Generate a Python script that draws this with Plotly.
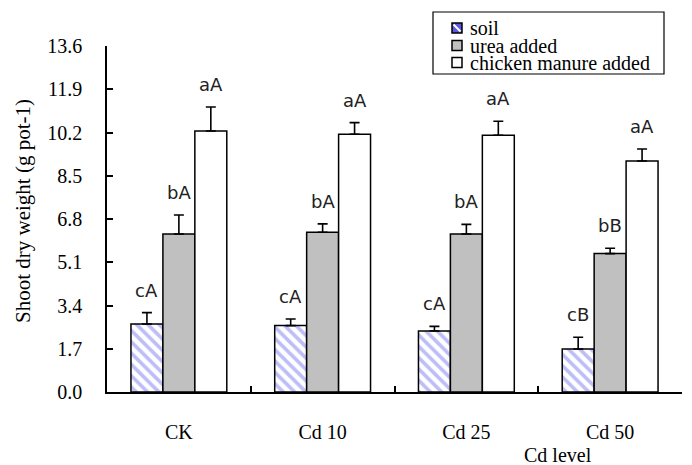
import plotly.graph_objects as go

categories = ["CK", "Cd 10", "Cd 25", "Cd 50"]
series_names = ["soil", "urea added", "chicken manure added"]
soil = [2.67, 2.61, 2.40, 1.69]
soil_err = [0.45, 0.26, 0.18, 0.46]
urea = [6.21, 6.28, 6.21, 5.44]
urea_err = [0.75, 0.33, 0.38, 0.21]
chicken = [10.26, 10.13, 10.09, 9.08]
chicken_err = [0.94, 0.46, 0.55, 0.47]
soil_letters = ["cA", "cA", "cA", "cB"]
urea_letters = ["bA", "bA", "bA", "bB"]
chicken_letters = ["aA", "aA", "aA", "aA"]
y_ticks = [0.0, 1.7, 3.4, 5.1, 6.8, 8.5, 10.2, 11.9, 13.6]

serif = "Liberation Serif"
sans = "DejaVu Sans"

W, H = 692, 465
L, R, T, B = 107, 10, 46, 73
PW, PH = W - L - R, H - T - B


def px(x):
    return (x - L) / PW


def py(y):
    return (H - B - y) / PH


fig = go.Figure()


def add_series(name, vals, errs, marker):
    fig.add_trace(go.Bar(
        name=name, x=categories, y=vals,
        marker=marker, showlegend=False,
        error_y=dict(type="data", array=errs, arrayminus=[0] * len(errs),
                     symmetric=False, color="black", thickness=1.6, width=5),
    ))


add_series(series_names[0], soil, soil_err,
           dict(color="white", line=dict(color="black", width=1.5),
                pattern=dict(shape="\\", fgcolor="#7b7bf0", bgcolor="white",
                             size=8, solidity=0.45, fillmode="overlay")))
add_series(series_names[1], urea, urea_err,
           dict(color="#c0c0c0", line=dict(color="black", width=1.5)))
add_series(series_names[2], chicken, chicken_err,
           dict(color="white", line=dict(color="black", width=1.5)))

# letter annotations above error bars
offsets = [-1, 0, 1]
bar_w = 1 / 3 * (2 / 3)
for si, (vals, errs, letters) in enumerate([(soil, soil_err, soil_letters),
                                             (urea, urea_err, urea_letters),
                                             (chicken, chicken_err, chicken_letters)]):
    for ci in range(len(categories)):
        fig.add_annotation(
            x=ci + offsets[si] * bar_w, y=vals[ci] + errs[ci],
            xref="x", yref="y", text=letters[ci], showarrow=False,
            yanchor="bottom", yshift=10,
            font=dict(family=sans, size=18, color="#222"),
        )

# axis titles
fig.add_annotation(
    x=px(558), y=py(455), xref="paper", yref="paper", text="Cd level",
    showarrow=False, xanchor="center", yanchor="middle",
    font=dict(family=serif, size=20, color="black"),
)
fig.add_annotation(
    x=px(23), y=py(211), xref="paper", yref="paper",
    text="Shoot dry weight (g pot-1)", textangle=-90,
    showarrow=False, xanchor="center", yanchor="middle",
    font=dict(family=serif, size=21, color="black"),
)

# manual legend
shapes = [dict(type="rect", xref="paper", yref="paper",
               x0=px(433), x1=px(664), y0=py(74), y1=py(12),
               line=dict(color="black", width=1.2), fillcolor="white")]
rows = [28, 45.5, 62.5]
fills = ["#5a5ae0", "#c0c0c0", "white"]
for name, ry, fc in zip(series_names, rows, fills):
    shapes.append(dict(type="rect", xref="paper", yref="paper",
                       x0=px(452), x1=px(462), y0=py(ry + 5), y1=py(ry - 5),
                       line=dict(color="black", width=1.5), fillcolor=fc))
    fig.add_annotation(
        x=px(468), y=py(ry), xref="paper", yref="paper", text=name,
        showarrow=False, xanchor="left", yanchor="middle",
        font=dict(family=serif, size=20, color="black"),
    )
shapes.append(dict(type="line", xref="paper", yref="paper",
                   x0=px(453.5), x1=px(460.5), y0=py(rows[0] - 3.5), y1=py(rows[0] + 3.5),
                   line=dict(color="white", width=2)))

fig.update_layout(
    width=W, height=H,
    margin=dict(l=L, r=R, t=T, b=B, autoexpand=False),
    paper_bgcolor="white", plot_bgcolor="white",
    font=dict(family=serif),
    barmode="group", bargap=1 / 3, bargroupgap=0,
    showlegend=False,
    shapes=shapes,
    xaxis=dict(
        range=[-0.5, 3.5], showline=True, linecolor="black", linewidth=1.5,
        ticks="inside", ticklen=6, tickcolor="black", tickwidth=1.5,
        tickson="boundaries", ticklabelstandoff=21, automargin=False,
        tickfont=dict(family=serif, size=20, color="black"),
        showgrid=False, zeroline=False,
    ),
    yaxis=dict(
        range=[0, 13.6], showline=True, linecolor="black", linewidth=1.5,
        ticks="inside", ticklen=6, tickcolor="black", tickwidth=1.5,
        tickvals=y_ticks, ticktext=[f"{v:.1f}" for v in y_ticks],
        ticklabelstandoff=19, automargin=False,
        tickfont=dict(family=serif, size=20, color="black"),
        showgrid=False, zeroline=False,
    ),
)

fig.write_html("out.html", config={"displayModeBar": False},
               post_script="document.body.style.margin='0';")
